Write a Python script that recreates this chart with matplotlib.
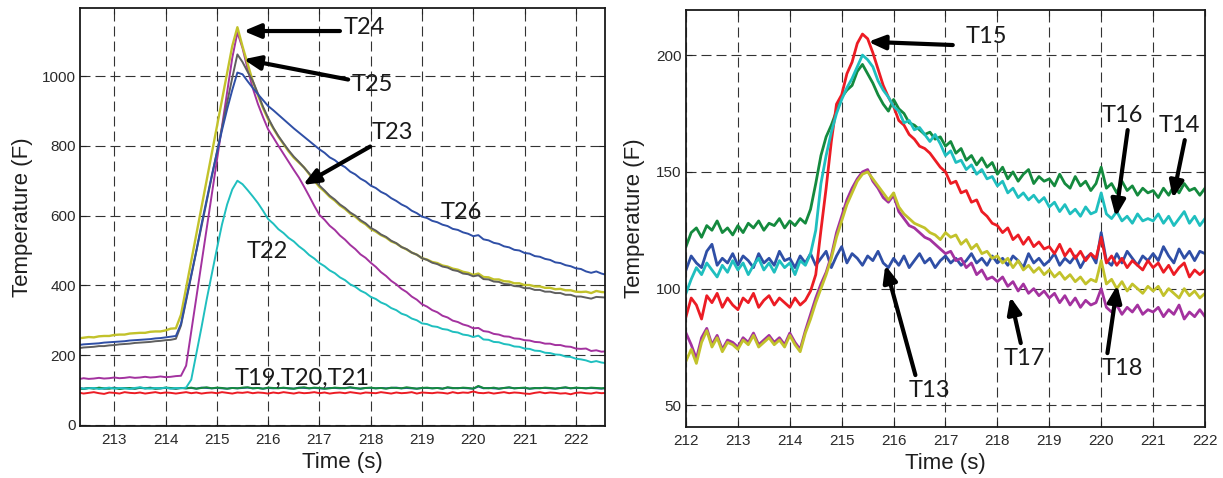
import numpy as np
import matplotlib
matplotlib.use("Agg")
import matplotlib.pyplot as plt

# ---------------------------------------------------------------
# Sampled thermocouple readings (deg F), 0.1 s apart
# ---------------------------------------------------------------
DT = 0.1
LEFT_T0 = 212.3    # first sample of the left-hand record
RIGHT_T0 = 212.0   # first sample of the right-hand record

# Left panel: T19-T26 (212.3 s ... 222.6 s)
T19 = [105,104,106,105,106,104,105,107,104,106,105,104,106,105,107,104,105,106,105,104,
       106,105,106,104,107,106,105,106,105,104,106,105,106,107,105,106,104,106,105,106,
       106,105,104,107,106,105,106,105,104,106,106,105,106,107,105,104,106,106,105,106,
       105,106,107,105,106,105,104,106,106,105,106,104,107,105,106,106,105,104,110,105,
       106,105,104,106,107,105,106,106,104,105,106,106,105,104,106,107,105,106,106,105,
       106,105,104,106]
T20 = [105,103,106,104,107,105,104,106,103,105,106,104,107,105,106,104,105,107,106,104,
       106,105,107,104,106,108,105,107,106,104,106,105,107,108,105,106,104,107,106,105,
       107,105,104,106,108,105,107,106,104,105,107,106,105,108,106,104,106,107,105,106,
       104,107,106,105,108,106,104,106,107,105,106,104,108,106,105,107,106,104,112,106,
       105,107,104,106,108,105,106,107,104,106,105,107,106,104,106,108,105,107,106,105,
       107,106,105,106]
T21 = [93,90,92,94,91,89,93,92,90,94,92,91,93,90,92,94,91,93,92,90,
       92,94,91,93,90,92,93,91,94,92,90,93,92,94,91,93,92,90,93,91,
       94,92,90,93,91,92,94,91,93,90,92,93,91,94,92,90,93,92,91,94,
       92,90,93,91,92,94,90,93,92,91,93,92,90,94,91,93,92,96,92,91,
       93,90,92,94,91,93,92,90,89,92,94,91,93,92,90,91,88,92,93,91,
       90,93,91,92]
T22 = [107,104,105,106,103,105,107,104,106,105,103,106,108,105,104,106,105,107,104,106,
       105,107,130,205,280,359,432,505,575,632,675,700,
       690,673,655,636,614,590,577,561,550,536,526,512,501,487,477,464,
       455,443,435,423,415,403,396,385,378,367,
       361,351,345,335,329,319,314,305,300,291,
       289,283,281,275,273,267,265,259,257,252,
       256,245,244,238,237,232,230,225,224,219,
       218,213,212,207,206,202,201,196,195,190,
       188,185,180,183,179,177]
T23 = [131,134,132,133,135,133,134,136,134,135,137,135,136,138,136,137,139,137,138,140,
       141,170,268,366,464,562,660,758,856,954,1052,1125,
       1080,1020,965,920,882,847,824,800,777,754,731,709,683,656,628,602,
       588,571,559,543,531,516,504,489,479,465,
       453,438,427,413,403,390,381,368,359,346,
       339,329,323,313,308,299,295,288,284,277,
       278,269,267,261,259,254,253,248,247,243,
       242,238,237,233,233,229,229,225,224,219,
       218,219,212,214,210,211]
T24 = [248,250,252,251,254,255,255,258,259,259,262,263,264,264,267,268,268,271,276,277,
       316,393,470,547,624,701,778,855,932,1009,1086,1140,
       1085,1035,985,945,908,876,850,826,805,784,766,752,738,719,700,682,
       669,654,643,629,619,606,597,584,575,562,
       554,544,537,526,520,510,503,494,488,478,
       474,467,464,457,454,448,445,439,436,430,
       434,424,423,417,417,412,411,406,406,401,
       401,397,397,393,393,389,390,386,386,382,
       381,382,378,384,381,380]
T25 = [220,222,223,224,226,226,228,229,231,232,233,235,236,237,238,240,241,243,244,247,
       285,356,427,498,569,640,711,782,853,924,995,1062,
       1040,1012,986,950,912,880,852,828,807,787,769,754,738,721,703,686,
       672,657,646,632,622,609,600,587,578,565,
       557,546,539,528,521,510,504,494,488,478,
       473,465,461,454,451,444,441,434,432,426,
       429,418,417,411,410,404,403,398,397,392,
       392,387,387,382,382,378,378,373,373,368,
       368,365,362,367,366,365]
T26 = [229,231,232,233,234,236,237,238,239,240,242,243,244,245,246,248,249,251,253,255,
       290,360,430,500,575,645,715,780,845,905,960,1010,
       1005,985,966,948,931,914,902,889,876,863,850,838,826,814,802,790,
       780,767,759,747,739,726,718,706,698,686,
       679,668,661,650,642,632,625,614,607,597,
       593,585,581,574,570,562,559,552,548,541,
       544,532,529,522,519,512,509,502,500,493,
       491,484,482,476,473,466,464,458,455,449,
       447,440,436,440,434,430]

# Right panel: T13-T18 (212.0 s ... 222.0 s)
T13 = [108,114,111,109,116,119,110,113,111,115,
       110,114,112,109,115,111,113,110,116,112,
       113,109,114,111,115,110,113,116,109,114,
       118,111,115,113,110,114,112,116,111,109,
       113,110,114,109,112,115,111,113,109,112,
       114,111,113,110,112,115,111,113,110,114,
       111,113,110,114,112,109,115,111,113,110,
       112,115,110,113,111,114,109,113,115,111,
       124,112,110,115,111,116,113,110,114,112,
       115,112,118,114,111,117,113,116,112,116,
       115]
T14 = [118,124,126,122,127,125,129,124,126,123,
       127,124,128,126,129,125,128,127,130,126,
       129,127,130,128,134,145,157,165,170,176,
       182,185,187,193,196,192,188,183,179,176,
       181,177,175,171,170,168,166,167,164,165,
       161,163,158,160,155,157,153,156,152,154,
       149,152,147,150,146,149,151,145,148,146,
       147,144,149,145,143,148,144,146,142,145,
       152,143,145,141,146,142,144,140,143,141,
       142,139,143,140,144,141,145,142,143,140,
       143]
T15 = [88,96,93,87,97,94,98,92,96,93,
       91,96,94,98,92,95,97,93,96,94,
       92,96,93,95,99,106,125,143,163,179,
       183,192,197,205,209,207,201,194,187,182,
       178,172,170,166,164,161,160,158,155,152,
       150,145,146,141,142,137,138,133,131,128,
       127,124,126,121,123,119,122,118,120,117,
       118,115,119,114,117,113,116,112,115,113,
       122,111,114,110,113,109,112,110,108,112,
       109,111,107,110,106,109,111,105,108,106,
       108]
T16 = [98,104,109,106,111,108,105,110,107,112,
       108,111,106,110,113,108,111,107,112,109,
       111,106,112,110,115,125,145,157,167,175,
       181,186,190,195,200,198,195,189,185,182,
       178,176,171,172,168,169,166,163,166,162,
       157,159,154,155,151,153,149,151,147,148,
       144,146,141,143,139,141,138,140,137,139,
       135,137,133,136,132,134,131,135,132,133,
       141,132,130,133,129,131,128,132,129,130,
       129,132,128,131,127,130,133,128,131,127,
       130]
T17 = [81,76,70,79,83,76,80,74,78,77,
       75,79,77,81,76,78,80,77,79,76,
       81,77,74,82,89,96,102,107,114,124,
       131,138,143,147,150,151,146,143,139,137,
       140,133,130,127,126,124,122,121,119,117,
       115,116,112,113,109,111,106,108,104,105,
       103,105,101,103,99,102,98,100,97,99,
       96,98,94,97,93,96,92,95,93,94,
       100,92,90,93,89,92,90,93,89,91,
       90,92,88,91,89,93,87,90,88,91,
       88]
T18 = [69,74,68,77,82,75,79,73,77,76,
       74,78,76,80,75,77,79,76,78,75,
       80,76,73,81,87,94,100,106,113,122,
       129,136,141,146,149,150,147,144,141,138,
       141,135,132,130,128,127,126,124,123,121,
       124,122,123,119,121,117,119,115,116,113,
       114,111,113,109,112,108,110,107,109,106,
       108,105,107,104,106,103,105,102,104,103,
       112,102,104,100,103,99,102,100,98,101,
       99,101,97,100,98,96,100,97,99,96,
       98]

LEFT_XTICKS = [213, 214, 215, 216, 217, 218, 219, 220, 221, 222]
LEFT_YTICKS = [0, 200, 400, 600, 800, 1000]
RIGHT_XTICKS = [212, 213, 214, 215, 216, 217, 218, 219, 220, 221, 222]
RIGHT_YTICKS = [50, 100, 150, 200]

# ---------------------------------------------------------------
# Styling
# ---------------------------------------------------------------
YEL, BLU, GRY = "#c2c22b", "#2f4fa6", "#5f5f5f"
MAG, CYN, GRN, RED = "#a3329f", "#1fbfbf", "#148a3e", "#ec1c24"

AXIS_FONT = "Liberation Sans"
NOTE_FONT = "Lato"

plt.rcParams["font.family"] = [AXIS_FONT, "DejaVu Sans"]


def times(t0, vals):
    return t0 + DT * np.arange(len(vals))


def style_axes(ax, xticks, yticks):
    ax.set_xticks(xticks)
    ax.set_yticks(yticks)
    ax.grid(True, color="#333333", linestyle=(0, (9, 4.5)), linewidth=0.8)
    ax.set_axisbelow(True)
    ax.tick_params(direction="in", length=4, width=0.8, top=True, right=True,
                   labelsize=11, labelcolor="#2a2a2a", colors="#222222")
    ax.tick_params(axis="x", pad=5)
    ax.tick_params(axis="y", pad=3)
    for s in ax.spines.values():
        s.set_linewidth(1.3)
        s.set_color("#1a1a1a")
    ax.set_xlabel("Time (s)", fontsize=16, color="#1e1e1e")
    ax.set_ylabel("Temperature (F)", fontsize=16, color="#1e1e1e")


ARROW = dict(arrowstyle="-|>,head_length=0.5,head_width=0.21",
             mutation_scale=20, lw=3.0, color="black", shrinkA=0, shrinkB=0)


def note(ax, text, pos, tail=None, head=None, ha="center"):
    if head is not None:
        ax.annotate("", xy=head, xytext=tail, arrowprops=ARROW, zorder=6)
    ax.text(pos[0], pos[1], text, ha=ha, va="center", fontsize=17,
            family=NOTE_FONT, color="#1a1a1a", zorder=7)


fig = plt.figure(figsize=(12.23, 4.78), dpi=100)
axL = fig.add_axes([80 / 1223, 52 / 478, 525 / 1223, 418 / 478])
axR = fig.add_axes([686 / 1223, 51.3 / 478, 519 / 1223, 416.7 / 478])

# ---- left panel ----
lw_l = 1.4
axL.plot(times(LEFT_T0, T19), T19, color=BLU, lw=lw_l)
axL.plot(times(LEFT_T0, T20), T20, color=GRN, lw=lw_l)
axL.plot(times(LEFT_T0, T21), T21, color=RED, lw=lw_l)
axL.plot(times(LEFT_T0, T22), T22, color=CYN, lw=lw_l)
axL.plot(times(LEFT_T0, T23), T23, color=MAG, lw=lw_l)
axL.plot(times(LEFT_T0, T24), T24, color=YEL, lw=lw_l + 0.3)
axL.plot(times(LEFT_T0, T25), T25, color=GRY, lw=lw_l)
axL.plot(times(LEFT_T0, T26), T26, color=BLU, lw=lw_l)
axL.set_xlim(212.33, 222.57)
axL.set_ylim(-3, 1195)
style_axes(axL, LEFT_XTICKS, LEFT_YTICKS)
axL.yaxis.set_label_coords(-0.09, 0.5)
axL.xaxis.set_label_coords(0.5, -0.062)

note(axL, "T24", (217.87, 1140), tail=(217.40, 1129), head=(215.52, 1129))
note(axL, "T25", (218.04, 976), tail=(217.56, 990), head=(215.52, 1048))
note(axL, "T23", (218.42, 838), tail=(217.99, 798), head=(216.68, 688))
note(axL, "T22", (215.98, 497))
note(axL, "T26", (219.76, 609))
note(axL, "T19,T20,T21", (215.35, 133), ha="left")

# ---- right panel ----
lw_r = 2.0
axR.plot(times(RIGHT_T0, T13), T13, color=BLU, lw=lw_r)
axR.plot(times(RIGHT_T0, T14), T14, color=GRN, lw=lw_r)
axR.plot(times(RIGHT_T0, T15), T15, color=RED, lw=lw_r)
axR.plot(times(RIGHT_T0, T16), T16, color=CYN, lw=lw_r)
axR.plot(times(RIGHT_T0, T17), T17, color=MAG, lw=lw_r)
axR.plot(times(RIGHT_T0, T18), T18, color=YEL, lw=lw_r)
axR.set_xlim(212, 222)
axR.set_ylim(40.9, 219.3)
style_axes(axR, RIGHT_XTICKS, RIGHT_YTICKS)
axR.yaxis.set_label_coords(-0.079, 0.5)
axR.xaxis.set_label_coords(0.5, -0.063)

note(axR, "T15", (217.79, 207.8), tail=(217.14, 204.3), head=(215.51, 205.7))
note(axR, "T16", (220.40, 174.3), tail=(220.51, 167.9), head=(220.28, 130.8))
note(axR, "T14", (221.50, 170.0), tail=(221.61, 163.6), head=(221.38, 138.7))
note(axR, "T17", (218.52, 70.3), tail=(218.45, 76.7), head=(218.25, 96.5))
note(axR, "T18", (220.40, 66.0), tail=(220.12, 72.4), head=(220.31, 101.5))
note(axR, "T13", (216.69, 56.6), tail=(216.42, 63.0), head=(215.84, 110.1))

fig.savefig("out.png", dpi=100)
